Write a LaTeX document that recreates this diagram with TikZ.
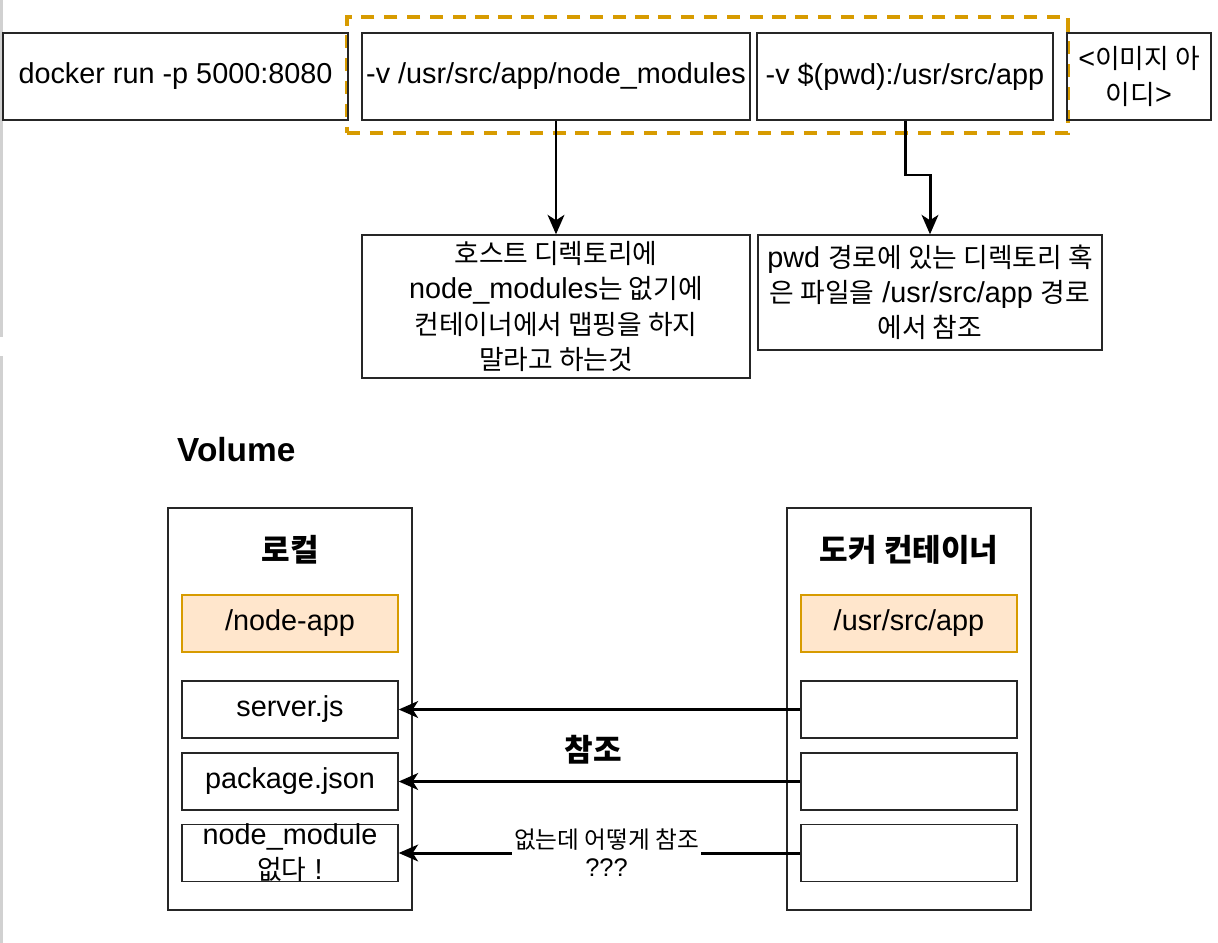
\documentclass[tikz,border=0pt]{standalone}
\usepackage{fontspec}
\setmainfont{Liberation Sans}
\newfontfamily\krfont[Scale=0.93]{Noto Sans CJK KR}
\newcommand{\ko}[1]{{\krfont #1}}
\usetikzlibrary{arrows.meta}
\definecolor{dioorange}{HTML}{D79B00}
\definecolor{diopeach}{HTML}{FFE6CC}

\begin{document}
\begin{tikzpicture}[x=0.02cm, y=-0.02cm,
    box/.style={draw=black!85, line width=0.8pt, inner sep=2pt, align=center,
        font=\fontsize{16.4}{20}\selectfont},
    cmdbox/.style={box, minimum height=1.74cm},
    filebox/.style={box, minimum width=4.32cm, minimum height=1.14cm},
    dirbox/.style={filebox, draw=dioorange, fill=diopeach},
    holder/.style={box, minimum width=4.88cm, minimum height=8.04cm},
    head/.style={font=\fontsize{19}{23}\selectfont\bfseries},
    arr/.style={line width=1.7pt, -{Stealth[length=11pt, width=9.5pt, inset=3pt]}}]
    \useasboundingbox (0,0) rectangle (1218,943);
    % page edge
    \draw[black!18, line width=1.3pt] (1.5,0) -- (1.5,337);
    \draw[black!18, line width=1.3pt] (1.5,356) -- (1.5,943);

    % command line
    \node[draw=dioorange, line width=2.2pt, dash pattern=on 7.5pt off 5.5pt,
        minimum width=14.42cm, minimum height=2.32cm] (frame) at (707.5,75) {};
    \node[cmdbox, minimum width=6.9cm] (run) at (175.5,76.5) {docker run -p 5000:8080};
    \node[cmdbox, minimum width=7.76cm] (vmod) at (556,76.5) {-v /usr/src/app/node\_modules};
    \node[cmdbox, minimum width=5.92cm] (vpwd) at (905,76.5) {-v \$(pwd):/usr/src/app};
    \node[cmdbox, minimum width=2.88cm] (img) at (1139,76.5) {<\ko{이미지 아}\\\ko{이디}>};

    \node[box, minimum width=7.76cm, minimum height=2.86cm] (nomap) at (556,306.5)
        {\ko{호스트 디렉토리에}\\node\_modules\ko{는 없기에}\\\ko{컨테이너에서 맵핑을 하지}\\\ko{말라고 하는것}};
    \node[box, minimum width=6.88cm, minimum height=2.3cm] (bind) at (930,292.5)
        {pwd \ko{경로에 있는 디렉토리 혹}\\\ko{은 파일을} /usr/src/app \ko{경로}\\\ko{에서 참조}};

    \draw[arr] (vmod.south) -- (nomap.north);
    \draw[arr] (vpwd.south) -- (vpwd.south |- 0,175) -| (bind.north);

    % volume
    \node[head, anchor=west] (vol) at (171,450) {Volume};

    \node[holder] (local) at (290,709) {};
    \node[holder] (cont) at (909,709) {};
    \node[head] (ltitle) at (290,550) {\ko{로컬}};
    \node[head] (ctitle) at (909,550) {\ko{도커 컨테이너}};

    \node[dirbox] (ldir) at (290,623.5) {/node-app};
    \node[dirbox] (cdir) at (909,623.5) {/usr/src/app};

    \node[filebox] (lserver) at (290,709.5) {server.js};
    \node[filebox] (lpkg) at (290,781.5) {package.json};
    \node[filebox, inner ysep=-4pt] (lmod) at (290,853) {node\_module\\\ko{없다} !};
    \node[filebox] (cserver) at (909,709.5) {};
    \node[filebox] (cpkg) at (909,781.5) {};
    \node[filebox] (cmod) at (909,853) {};

    \draw[arr] (cserver.west) -- (lserver.east);
    \draw[arr] (cpkg.west) -- (lpkg.east);
    \draw[arr] (cmod.west) -- node[fill=white, align=center, inner sep=1pt,
        font=\fontsize{14.5}{16}\selectfont, xshift=4pt] (ask) {\ko{없는데 어떻게 참조}\\???} (lmod.east);

    \node[head] (ref) at (593,750) {\ko{참조}};
\end{tikzpicture}
\end{document}
